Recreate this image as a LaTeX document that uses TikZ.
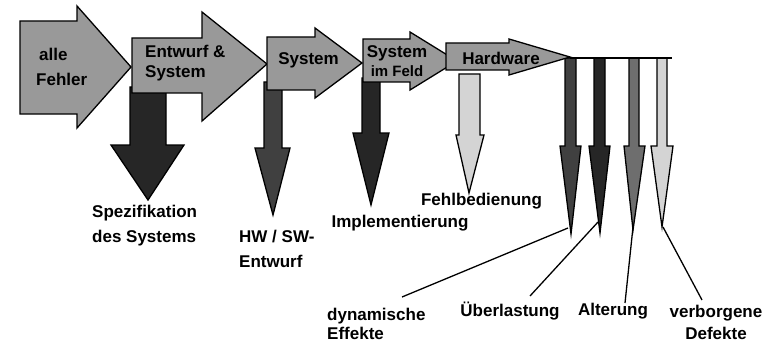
\documentclass[tikz,border=0pt]{standalone}
\usepackage{fontspec}
\setmainfont{Liberation Sans}
\definecolor{fgray}{HTML}{999999}
\definecolor{dk}{HTML}{262626}
\definecolor{dg}{HTML}{404040}
\definecolor{mg}{HTML}{6E6E6E}
\definecolor{lg}{HTML}{D4D4D4}
\begin{document}
\begin{tikzpicture}[x=1pt,y=-1pt,
  outl/.style={draw=black,line width=1.3pt,line join=miter},
  flow/.style={outl,fill=fgray},
  lbl/.style={font=\fontsize{17}{25}\selectfont\bfseries,inner sep=0pt},
  lead/.style={draw=black,line width=1.3pt}]
\useasboundingbox (0,0) rectangle (775,342);

% down arrows (behind)
\draw[outl,fill=dk] (130,87) -- (166,87) -- (166,145) -- (184,145) -- (148,200) -- (111,145) -- (130,145) -- cycle;
\draw[outl,fill=dg] (264,82) -- (282,82) -- (282,148) -- (290,148) -- (273,215) -- (255,148) -- (264,148) -- cycle;
\draw[outl,fill=dk] (362,78) -- (380,78) -- (380,133) -- (389,133) -- (371,205) -- (353,133) -- (362,133) -- cycle;
\draw[outl,fill=lg] (459,74) -- (480,74) -- (480,135) -- (484,135) -- (469,193) -- (456,135) -- (459,135) -- cycle;

% four thin arrows
\draw[outl,fill=dg] (565,58) -- (576,58) -- (576,146) -- (581,146) -- (571,234) -- (560,146) -- (565,146) -- cycle;
\draw[outl,fill=dk] (594,58) -- (605,58) -- (605,146) -- (610,146) -- (600,233) -- (589,146) -- (594,146) -- cycle;
\draw[outl,fill=mg] (629,58) -- (639,58) -- (639,146) -- (645,146) -- (633,230) -- (624,146) -- (629,146) -- cycle;
\draw[outl,fill=lg] (657,58) -- (667,58) -- (667,146) -- (673,146) -- (662,227) -- (651,146) -- (657,146) -- cycle;

% right arrows
\draw[flow] (20,21) -- (77,21) -- (77,6) -- (131,67) -- (77,128) -- (77,114) -- (20,114) -- cycle;
\draw[flow] (132,38) -- (202,38) -- (202,12) -- (267,64) -- (202,121) -- (202,93) -- (132,93) -- cycle;
\draw[flow] (267,37) -- (315,37) -- (315,28) -- (362,63) -- (315,98) -- (315,90) -- (267,90) -- cycle;
\draw[flow] (363,39) -- (410,39) -- (410,32) -- (457,61) -- (410,90) -- (410,82) -- (363,82) -- cycle;
\draw[flow] (446,43) -- (509,43) -- (509,39) -- (570,57) -- (509,75) -- (509,70) -- (446,70) -- cycle;

% horizontal line
\coordinate (hwtip) at (570,58);
\coordinate (lineend) at (672,58);
\draw[lead] (hwtip) -- (lineend);

% texts in arrows
\node[lbl,anchor=west,align=left] (t1) at (36,67) {\hspace*{3pt}alle\\Fehler};
\node[lbl,anchor=west,align=left,font=\fontsize{17}{20}\selectfont\bfseries] (t2) at (145,63) {Entwurf \&\\System};
\node[lbl] (t3) at (308.5,60) {System};
\node[lbl,align=center,font=\fontsize{17}{19}\selectfont\bfseries] (t4) at (397,61) {System\\{\fontsize{15}{19}\selectfont im Feld}};
\node[lbl] (t5) at (501,58) {Hardware};

% labels under arrows
\node[lbl,anchor=west,align=left] (l1) at (92,225.5) {Spezifikation\\des Systems};
\node[lbl,anchor=west,align=left] (l2) at (239,248.5) {HW / SW-\\Entwurf};
\node[lbl] (l3) at (400,223) {Implementierung};
\node[lbl] (l4) at (481.5,201) {Fehlbedienung};

\node[lbl,anchor=west,align=left,font=\fontsize{17}{19}\selectfont\bfseries] (l5) at (327,323.5) {dynamische\\Effekte};
\node[lbl] (l6) at (510,311) {Überlastung};
\node[lbl] (l7) at (613,311) {Alterung};
\node[lbl,align=center,font=\fontsize{17}{22}\selectfont\bfseries] (l8) at (716,322) {verborgene\\Defekte};

% leader lines
\coordinate (tA) at (568,228);
\coordinate (tB) at (598,222);
\coordinate (tC) at (633,227);
\coordinate (tD) at (663,227);
\coordinate (sA) at (402,297);
\coordinate (sB) at (530,296);
\coordinate (sC) at (625,303);
\coordinate (sD) at (702,300);
\draw[lead] (sA) -- (tA);
\draw[lead] (sB) -- (tB);
\draw[lead] (sC) -- (tC);
\draw[lead] (sD) -- (tD);
\end{tikzpicture}
\end{document}
